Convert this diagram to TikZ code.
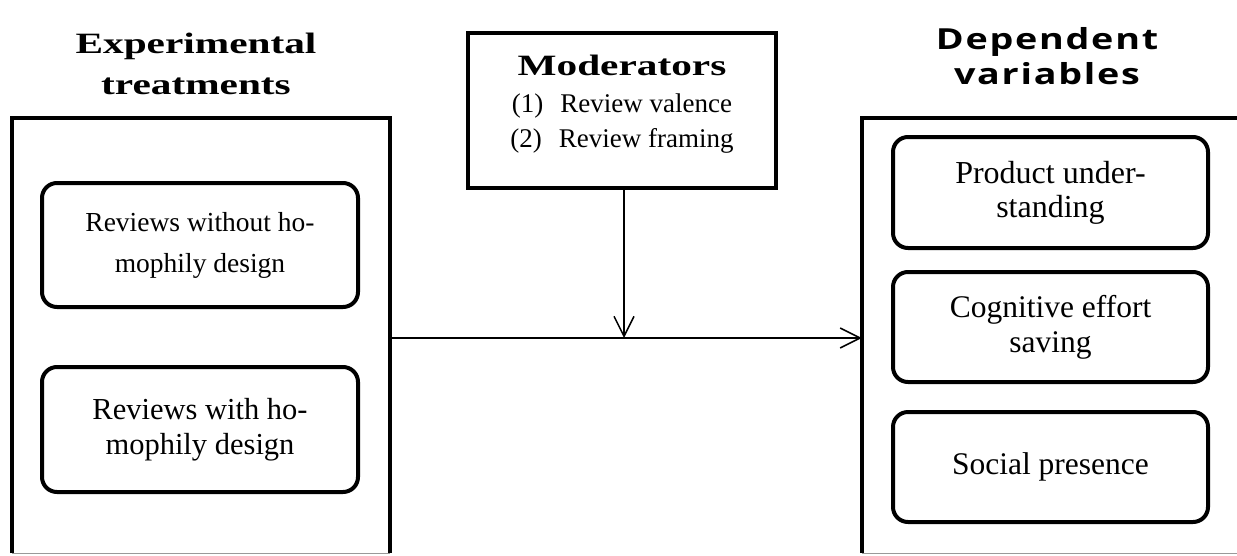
\documentclass[tikz,border=0pt]{standalone}
\usepackage{fontspec}
\setmainfont{Liberation Serif}
\newfontfamily\hdrserif[FakeStretch=1.4]{Liberation Serif}
\newfontfamily\hdrsans[FakeStretch=1.3,LetterSpace=6]{Open Sans}
\usetikzlibrary{arrows.meta}
\begin{document}
\begin{tikzpicture}[x=1pt,y=-1pt,
  outerline/.style={line width=4.5pt},
  bottomline/.style={line width=1pt,draw=black!40},
  innerbox/.style={draw,line width=4pt,rounded corners=15pt,minimum width=316pt,inner sep=0pt,align=center},
  modbox/.style={draw,line width=4.5pt,minimum width=308pt,minimum height=155pt,inner sep=0pt},
  serifhead/.style={align=center,inner sep=0pt,font=\hdrserif\bfseries\fontsize{29.5pt}{41pt}\selectfont},
  sanshead/.style={align=center,inner sep=0pt,font=\hdrsans\bfseries\fontsize{29pt}{35pt}\selectfont},
  arr/.style={line width=1.5pt,-{Straight Barb[length=20pt,width=20pt]}},
  bigbox/.style={draw=none,inner sep=0pt}
]
\useasboundingbox (0,0) rectangle (1237,555);
\clip (0,0) rectangle (1237,555);

% headers
\node[serifhead] (h1) at (196,63.5) {Experimental\\treatments};
\node[sanshead] (h2) at (1047,56) {Dependent\\variables};

% outer boxes
\node[bigbox,minimum width=378pt,minimum height=435pt] (treat) at (201,335.5) {};
\draw[outerline] (treat.south west) -- (treat.north west) -- (treat.north east) -- (treat.south east);
\draw[bottomline] (treat.south west) -- (treat.south east);
\node[bigbox,minimum width=400pt,minimum height=435pt] (dv) at (1062,335.5) {};
\draw[outerline] (dv.south east) -- (dv.north east) -- (dv.north west) -- (dv.south west);
\draw[bottomline] (dv.south west) -- (dv.south east);

% moderator box
\node[modbox] (mod) at (622,110.5) {};
\node[align=center,inner sep=0pt,font=\fontsize{27pt}{35pt}\selectfont] (modtxt) at (622,104)
  {{\hdrserif\bfseries\fontsize{29.5pt}{35pt}\selectfont Moderators}\\[2pt]
   (1)\hspace{17pt}Review valence\\
   (2)\hspace{17pt}Review framing};

% inner boxes, left
\node[innerbox,minimum height=124pt,font=\fontsize{27.5pt}{41pt}\selectfont] (t1) at (200,245) {Reviews without ho-\\mophily design};
\node[innerbox,minimum height=125pt,font=\fontsize{30.5pt}{35pt}\selectfont] (t2) at (200,429.5) {Reviews with ho-\\mophily design};

% inner boxes, right
\node[innerbox,minimum width=315pt,minimum height=111pt,font=\fontsize{32pt}{34pt}\selectfont] (d1) at (1050.5,192.5) {Product under-\\standing};
\node[innerbox,minimum width=315pt,minimum height=110pt,font=\fontsize{31.5pt}{35pt}\selectfont] (d2) at (1050.5,327) {Cognitive effort\\saving};
\node[innerbox,minimum width=315pt,minimum height=110pt,font=\fontsize{31.5pt}{35pt}\selectfont] (d3) at (1050.5,467) {Social presence};

% connectors
\coordinate (j) at (624,338);
\draw[arr] (treat.east |- j) -- (dv.west |- j);
\draw[arr] (mod.south -| j) -- (j);
\end{tikzpicture}
\end{document}
